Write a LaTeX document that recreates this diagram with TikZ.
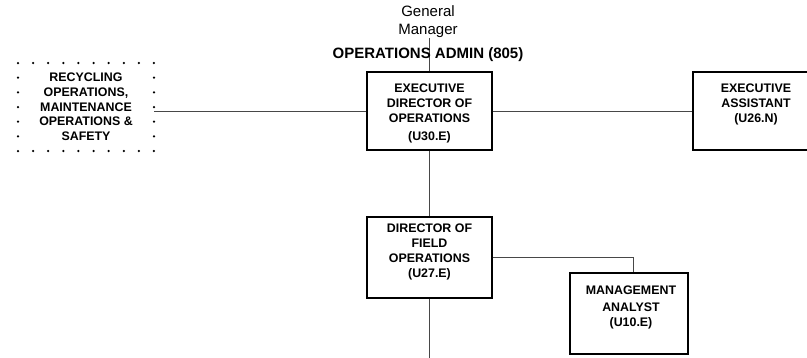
\documentclass[tikz,border=0pt]{standalone}
\usepackage{fontspec}
\setmainfont{Liberation Sans}
\usetikzlibrary{shadows}
\begin{document}
\begin{tikzpicture}[x=1pt,y=-1pt,
  box/.style={draw=black, line width=1.1pt, fill=white,
    general shadow={fill=black, shadow xshift=1pt, shadow yshift=-1pt}},
  boxtext/.style={font=\fontsize{12.4}{15}\selectfont\bfseries, align=center, inner sep=0pt, anchor=north},
  conn/.style={draw=black!72, line width=0.9pt},
  dot/.style={fill=black}]
\useasboundingbox[fill=white] (0,0) rectangle (807,357);

% boxes
\node[box, minimum width=125pt, minimum height=78pt] (ed) at (429.5,111) {};
\node[box, minimum width=126pt, minimum height=78pt] (ea) at (756,111) {};
\node[box, minimum width=125pt, minimum height=81pt] (dfo) at (429.5,257.5) {};
\node[box, minimum width=118pt, minimum height=81pt] (ma) at (629,313.5) {};
\node[minimum width=136pt, minimum height=88pt, inner sep=0pt, align=center,
      font=\fontsize{12.4}{14.7}\selectfont\bfseries] (rec) at (86,107)
  {RECYCLING\\OPERATIONS,\\MAINTENANCE\\OPERATIONS \&\\SAFETY};

% dotted border of the recycling box
\foreach \i in {0,...,9} {
  \fill[dot] (18+\i*15.11,63) circle (1.25);
  \fill[dot] (18+\i*15.11,151) circle (1.25);
}
\foreach \i in {1,...,5} {
  \fill[dot] (18,63+\i*14.67) circle (1.25);
  \fill[dot] (154,63+\i*14.67) circle (1.25);
}

% header texts
\node[font=\fontsize{15}{18}\selectfont, align=center, inner sep=0pt] (gm) at (428,22) {General\\Manager};

% connectors
\draw[conn] (ed.north |- gm.south) -- (ed.north);
\draw[conn] (ed.west) -- (ed.west -| rec.east);
\draw[conn] (ed.east) -- (ea.west);
\draw[conn] (ed.south) -- (dfo.north);
\coordinate (bot) at (429.5,360);
\draw[conn] (dfo.south) -- (bot);
\draw[conn] (dfo.east) -| ([xshift=4pt]ma.north);

\node[font=\fontsize{15}{18}\selectfont\bfseries, inner sep=0pt] (adm) at (428,55) {OPERATIONS ADMIN (805)};

% box texts
\node[boxtext] (edt) at (429.5,83.6) {EXECUTIVE\\DIRECTOR OF\\OPERATIONS\\[2.7pt](U30.E)};
\node[boxtext] (eat) at (756,83.6) {EXECUTIVE\\ASSISTANT\\(U26.N)};
\node[boxtext] (dfot) at (429.5,223.6) {DIRECTOR OF\\FIELD\\OPERATIONS\\(U27.E)};
\node[boxtext] (mat) at (631,285.6) {MANAGEMENT\\[2pt]ANALYST\\(U10.E)};
\end{tikzpicture}
\end{document}
